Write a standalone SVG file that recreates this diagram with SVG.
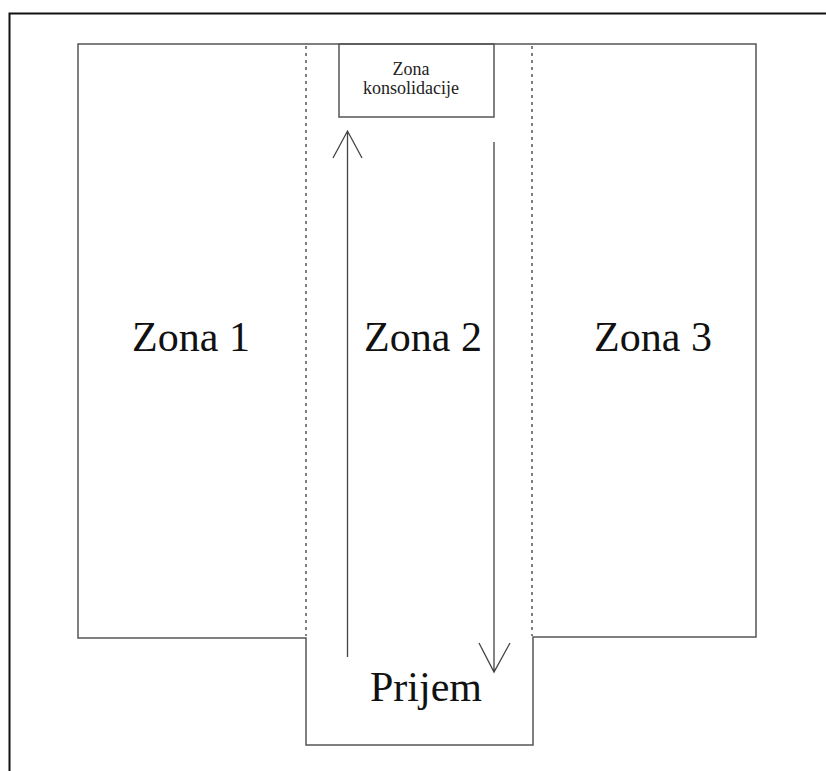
<svg xmlns="http://www.w3.org/2000/svg" width="826" height="771" viewBox="0 0 826 771">
<style>
.frame{fill:none;stroke:#111;stroke-width:2}
.wall{fill:none;stroke:#555;stroke-width:1.5}
.dot{fill:none;stroke:#555;stroke-width:1.5;stroke-dasharray:3 4}
.arrow{fill:none;stroke:#444;stroke-width:1.3}
.big{font-family:"Liberation Serif",serif;font-size:42px;fill:#111;text-anchor:middle}
.small{font-family:"Liberation Serif",serif;font-size:18px;fill:#222;text-anchor:middle}
</style>
<rect width="826" height="771" fill="#fff"/>
<path class="frame" d="M9.5,771 V13.5 H826"/>
<g id="warehouse">
<path class="wall" d="M78,44 H756 V637 H533 V745 H306 V638 H78 Z"/>
</g>
<g id="zona1"><text class="big" x="191" y="351">Zona 1</text></g>
<g id="zona2">
<path class="dot" d="M306,46 V636"/>
<path class="dot" d="M532,46 V636"/>
<text class="big" x="423" y="351">Zona 2</text>
</g>
<g id="zona3"><text class="big" x="653" y="351">Zona 3</text></g>
<g id="konsolidacija">
<rect class="wall" x="339" y="44" width="155" height="73"/>
<text class="small" x="411" y="75">Zona</text>
<text class="small" x="411" y="94">konsolidacije</text>
</g>
<g id="prijem"><text class="big" x="426" y="701">Prijem</text></g>
<g id="connectors">
<path class="arrow" d="M347.5,657 V131 M333,158 L347.5,131 L362,158"/>
<path class="arrow" d="M494,142 V672 M479,643 L494,672 L510,643"/>
</g>
</svg>
